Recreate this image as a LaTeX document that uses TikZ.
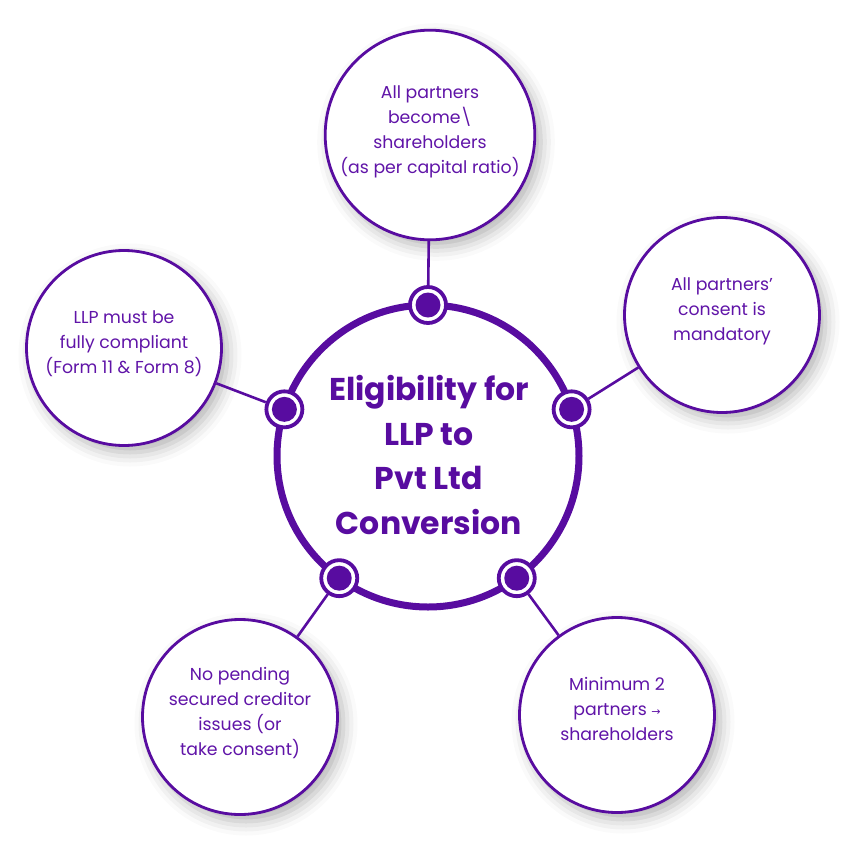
\documentclass[tikz,border=0pt]{standalone}
\usepackage{fontspec}
\setmainfont{Poppins}
\newfontfamily\symfont{DejaVu Sans}
\usetikzlibrary{shadows.blur,calc}
\definecolor{pp}{RGB}{88,12,160}
\definecolor{ptext}{RGB}{96,20,168}
\newcommand{\lift}[1]{\raisebox{0pt}[\height][\dimexpr\depth+9pt\relax]{\begin{tabular}{@{}c@{}}#1\end{tabular}}}
\begin{document}
\begin{tikzpicture}[x=1pt,y=-1pt,
  outer/.style={circle,draw=pp,line width=2.8pt,fill=white,minimum size=195pt,inner sep=0pt,
    align=center,text=ptext,font=\fontsize{17.3}{25}\selectfont,
    blur shadow={shadow xshift=6pt,shadow yshift=-7pt,shadow blur radius=14pt,shadow opacity=30}},
  ring/.style={circle,draw=pp,line width=3.8pt,fill=white,minimum size=36pt,inner sep=0pt},
  conn/.style={draw=pp,line width=2.6pt},
  maintext/.style={align=center,text=pp,font=\bfseries\fontsize{31.5}{44.5}\selectfont}
]
\useasboundingbox (0,0) rectangle (855,855);
\coordinate (C) at (428,456);
% outer circles
\node[outer] (o1) at (430,135) {\lift{All partners\\become\textbackslash\\shareholders\\(as per capital ratio)}};
\node[outer] (o2) at (722,315) {\lift{All partners’\\consent is\\mandatory}};
\node[outer] (o3) at (124,348) {\lift{LLP must be\\fully compliant\\(Form 11 \& Form 8)}};
\node[outer] (o4) at (240,717) {\lift{No pending\\secured creditor\\issues (or\\take consent)}};
\node[outer] (o5) at (617,715) {\lift{Minimum 2\\partners {\symfont\fontsize{11}{11}\selectfont →}\\shareholders}};
% main circle
\draw[pp,line width=7pt] (C) circle[radius=151pt];
\node[maintext] (main) at (429,455) {Eligibility for\\LLP to\\Pvt Ltd\\Conversion};
% dots
\path (C) ++(90:151pt) node[ring] (d1) {};
\path (C) ++(18:151pt) node[ring] (d2) {};
\path (C) ++(162:151pt) node[ring] (d3) {};
\path (C) ++(234:151pt) node[ring] (d4) {};
\path (C) ++(306:151pt) node[ring] (d5) {};
\foreach \d in {d1,d2,d3,d4,d5} \fill[pp] (\d) circle[radius=12.5pt];
% connectors
\draw[conn] (d1) -- (o1);
\draw[conn] (d2) -- (o2);
\draw[conn] (d3) -- (o3);
\draw[conn] (d4) -- (o4);
\draw[conn] (d5) -- (o5);
\end{tikzpicture}
\end{document}
